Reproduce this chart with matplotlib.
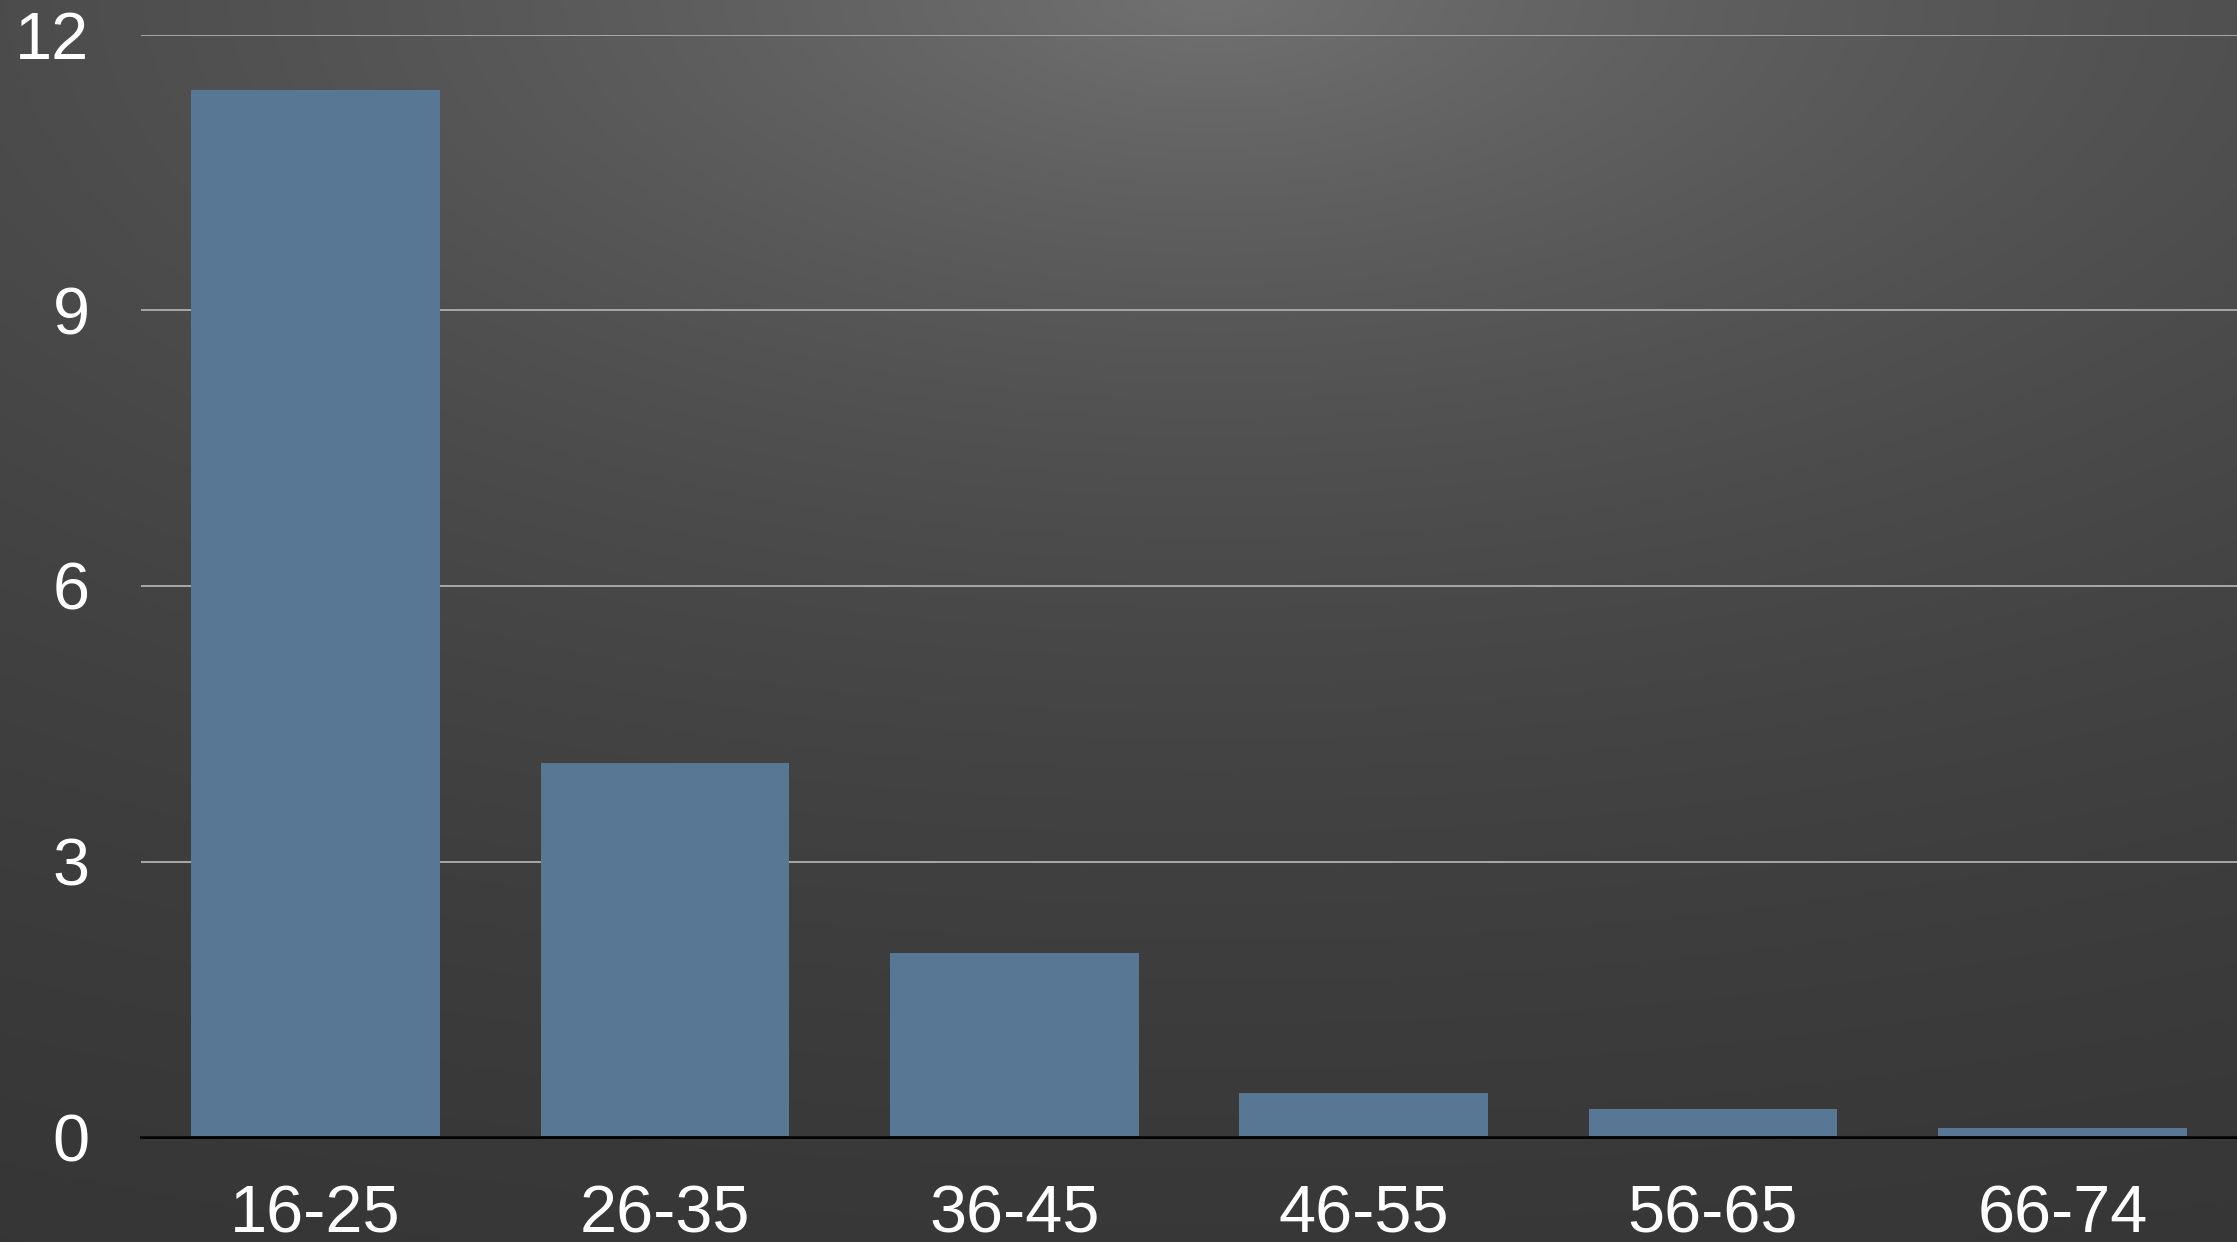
import numpy as np
import matplotlib
matplotlib.use("Agg")
import matplotlib.pyplot as plt

# Age groups and their values
age_groups = ["16-25", "26-35", "36-45", "46-55", "56-65", "66-74"]
values = [11.4, 4.07, 2.0, 0.48, 0.31, 0.1]
y_ticks = [0, 3, 6, 9, 12]

W, H, DPI = 2237, 1242, 100
fig = plt.figure(figsize=(W / DPI, H / DPI), dpi=DPI)

# Dark backdrop with a soft light spot near the top centre
bg = fig.add_axes([0, 0, 1, 1])
yy, xx = np.mgrid[0:H, 0:W]
dx = (xx - 1210) / 2.2
dy = yy + 10
r = np.sqrt(dx ** 2 + dy ** 2)
shade = 114 - 70 * (1 - np.exp(-r / 700))
shade = np.clip(shade, 48, 120) / 255.0
bg.imshow(np.dstack([shade, shade, shade]), extent=[0, 1, 0, 1],
          aspect="auto", origin="upper")
bg.set_axis_off()

left, bottom_px, top_px = 141, 1137, 35
ax = fig.add_axes([left / W, (H - bottom_px) / H, 1 - left / W, (bottom_px - top_px) / H])
ax.patch.set_alpha(0)

x = np.arange(len(age_groups))
ax.bar(x, values, width=0.712, color="#587795", zorder=3)

ax.set_xlim(-0.5, len(age_groups) - 0.5)
ax.set_ylim(0, 12)
ax.set_yticks(y_ticks)
ax.set_xticks(x)
ax.set_xticklabels(age_groups)

for spine in ["top", "right", "left"]:
    ax.spines[spine].set_visible(False)
ax.spines["bottom"].set_color("black")
ax.spines["bottom"].set_linewidth(2.0)
ax.spines["bottom"].set_zorder(4)

ax.yaxis.grid(True, color="#a8a8a8", linewidth=1.4, zorder=1)
ax.xaxis.grid(False)

font = dict(family=["Liberation Sans", "DejaVu Sans"], size=48, color="white")
ax.tick_params(axis="both", length=0)
ax.tick_params(axis="y", pad=37)
ax.tick_params(axis="x", pad=34)
for lbl in ax.get_xticklabels() + ax.get_yticklabels():
    lbl.set_fontfamily(font["family"])
    lbl.set_fontsize(font["size"])
    lbl.set_color(font["color"])

fig.savefig("out.png", dpi=DPI)
